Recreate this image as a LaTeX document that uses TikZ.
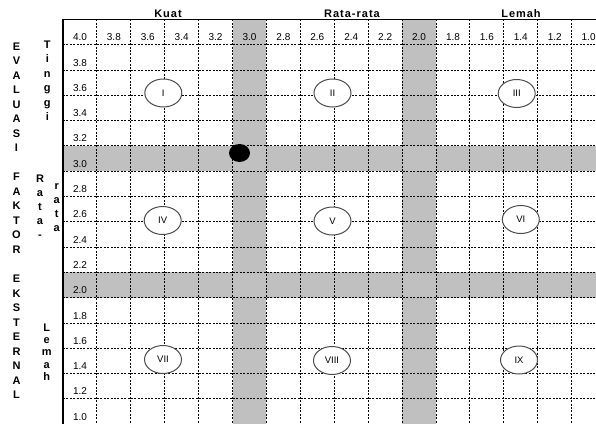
\documentclass[tikz,border=0pt]{standalone}
\usepackage{fontspec}
\setmainfont{Liberation Sans}
\newfontfamily\headfont[LetterSpace=9]{Liberation Sans}
\usetikzlibrary{shapes.geometric}
\definecolor{bandgray}{RGB}{192,192,192}

\begin{document}
\begin{tikzpicture}[
  x=1pt,y=-1pt,
  every node/.style={inner sep=0pt},
  gridline/.style={line width=1pt,dash pattern=on 2pt off 1.4pt},
  band/.style={fill=bandgray},
  num/.style={anchor=base,font=\fontsize{10}{12}\selectfont},
  head/.style={anchor=base,font=\headfont\bfseries\fontsize{11}{13}\selectfont},
  sidetext/.style={anchor=north,align=center,font=\bfseries\fontsize{11}{#1}\selectfont},
  zone/.style={ellipse,draw=black!70,line width=1pt,fill=white,
    minimum width=37pt,minimum height=28pt,font=\fontsize{9.5}{11}\selectfont}
]
  \def\gx{63}
  \def\gy{19.4}
  \def\cw{33.91}
  \def\rh{25.3}
  \useasboundingbox (0,0) rectangle (596,423);
  \clip (0,0) rectangle (596,423);

  % shaded bands at 3.0 and 2.0
  \fill[band] ({\gx+5*\cw},\gy) rectangle ({\gx+6*\cw},440);
  \fill[band] ({\gx+10*\cw},\gy) rectangle ({\gx+11*\cw},440);
  \fill[band] (\gx,{\gy+5*\rh}) rectangle (610,{\gy+6*\rh});
  \fill[band] (\gx,{\gy+10*\rh}) rectangle (610,{\gy+11*\rh});

  % dotted grid
  \foreach \i in {1,...,16}
    \draw[gridline] ({\gx+\i*\cw},\gy) -- ({\gx+\i*\cw},440);
  \foreach \j in {1,...,16}
    \draw[gridline] (\gx,{\gy+\j*\rh}) -- (610,{\gy+\j*\rh});
  \draw[line width=1.3pt] (\gx,440) -- (\gx,\gy) -- (610,\gy);

  % scale values
  \foreach \v [count=\i from 0] in {4.0,3.8,3.6,3.4,3.2,3.0,2.8,2.6,2.4,2.2,2.0,1.8,1.6,1.4,1.2,1.0}
    \node[num] (x\i) at ({\gx+(\i+.5)*\cw},{\gy+\rh-4}) {\v};
  \foreach \v [count=\j from 1] in {3.8,3.6,3.4,3.2,3.0,2.8,2.6,2.4,2.2,2.0,1.8,1.6,1.4,1.2,1.0}
    \node[num] (y\j) at ({\gx+.5*\cw},{\gy+(\j+1)*\rh-4}) {\v};

  % headings
  \node[head] (kuat) at (168,17.3) {Kuat};
  \node[head] (ratarata) at (352,17.3) {Rata-rata};
  \node[head] (lemah) at (521,17.3) {Lemah};

  \node[sidetext=14.53] (efe) at (16.5,42.3)
    {E\\V\\A\\L\\U\\A\\S\\I\\[14.53pt]F\\A\\K\\T\\O\\R\\[14.53pt]E\\K\\S\\T\\E\\R\\N\\A\\L};
  \node[sidetext=14.4] (tinggi) at (47.3,40.7) {T\\i\\n\\g\\g\\i};
  \node[sidetext=13.9] (rata1) at (40,175.1) {R\\a\\t\\a\\-};
  \node[sidetext=13.9] (rata2) at (56.7,183.8) {r\\a\\t\\a};
  \node[sidetext=12.3] (lemahside) at (46.7,323.6) {L\\e\\m\\a\\h};

  % cells I - IX
  \node[zone] (q1) at (163.3,93) {I};
  \node[zone] (q2) at (332.5,93) {II};
  \node[zone] (q3) at (516.7,93.5) {III};
  \node[zone] (q4) at (162.7,220.5) {IV};
  \node[zone] (q5) at (332.5,221) {V};
  \node[zone] (q6) at (520.8,219.5) {VI};
  \node[zone] (q7) at (163,359.5) {VII};
  \node[zone] (q8) at (332,360.5) {VIII};
  \node[zone] (q9) at (519,360) {IX};

  \node[ellipse,fill=black,minimum width=21pt,minimum height=18pt] (pos) at (239.5,153) {};
\end{tikzpicture}
\end{document}
